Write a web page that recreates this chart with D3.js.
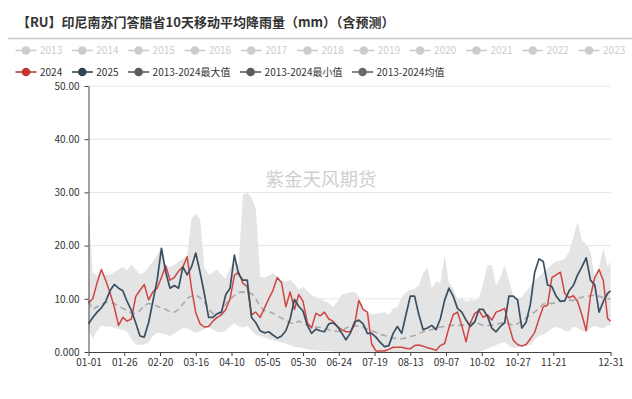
<!DOCTYPE html>
<html><head><meta charset="utf-8">
<script src="https://cdn.jsdelivr.net/npm/d3@7"></script>
<style>body{margin:0;background:#fff} svg{display:block}</style>
</head><body>
<svg id="c" width="632" height="399"></svg>
<script>
// ---------- data ----------
const titleText = "【RU】印尼南苏门答腊省10天移动平均降雨量（mm）（含预测）";
const watermarkText = "紫金天风期货";
const fadedLegend = ["2013","2014","2015","2016","2017","2018","2019","2020","2021","2022","2023"];
const activeLegend = ["2024","2025","2013-2024最大值","2013-2024最小值","2013-2024均值"];
const yTickValues = [0,10,20,30,40,50];
const yTickLabels = ["0.000","10.00","20.00","30.00","40.00","50.00"];
const xTickLabels = ["01-01","01-26","02-20","03-16","04-10","05-05","05-30","06-24","07-19","08-13","09-07","10-02","10-27","11-21","12-31"];

// day-of-year categories (MM-DD) and the sampled day indices the values belong to
const categories = d3.timeDays(new Date(2024,0,1), new Date(2025,0,1)).map(d3.timeFormat("%m-%d"));
const sampleIdx = d3.range(0,366,3).concat([365]);

const series2024 = [
9.2,10,13,15.5,13.5,11.2,8.5,5,6.5,5.8,
6.2,10.4,11.6,12.7,9.8,11.3,12,14,16.2,13.5,
14,15.2,16,17.9,12,7.4,5.3,4.7,4.8,5.8,
6.5,7,8,10,14.4,15,12.9,12.3,7,7.5,
6.5,8.2,10,11.6,14,13,8.5,11.3,8,10.8,
9.5,5.5,4.5,7.3,6.8,7.5,6.2,5.8,4.8,4.2,
3.8,3.8,5,9.7,8,7.5,1.5,0.2,0.2,0.2,
0.5,0.9,0.9,0.9,0.7,0.6,1.2,1.3,1.1,0.8,
0.6,0.3,1.2,1.6,4.5,7,7.5,5,1.9,5.5,
7.2,7.8,6.5,7,6,7.5,7.8,8.2,5,2.2,
1.4,1.1,1.4,2.5,3.7,6.2,8.5,8.8,14,14.5,
15,11,10.2,10.6,9.5,7,4,10.5,14,15.5,
13.4,6.3,5.8];
const series2025 = [
5.3,6.5,7.5,8.3,9.5,11.5,12.7,12,11.5,9.5,
7.8,5.5,3,2.8,5.5,9.5,13.5,19.5,15,12,
12.5,12,16,14.5,16,18.6,15,11,6.5,6.5,
7.2,7.5,10.8,12,18.2,14.6,13.5,13.5,6.5,5.5,
4,3.6,3.8,3.2,2.6,3,4,6.2,9.9,8.6,
7.7,5,3.5,4.3,4,3.8,5.3,5.5,4.8,3.6,
2.3,3.5,5.6,6,5.3,3.5,3.5,2.8,1.8,1,
1.2,3.5,4.8,3.5,7,10.5,10.5,7,4.2,4.5,
5,4.2,6.2,9.7,12,10.5,8.2,7.5,6,4.8,
5.6,8,8,6.7,4.5,3.8,4.8,5.5,10.5,10.5,
9.8,4.5,5.6,9,15,17.5,17,12.6,12.3,10.5,
9.5,9.6,11.5,12.5,14.5,16,17.7,13.5,12.6,7.5,
9.5,11,11.5];
const seriesMean = [
9.5,8,8.5,9,9.3,9.4,9.1,8.6,8.2,7.8,
7.3,7.2,7.8,8.8,9.1,9,8.6,8.3,8,7.6,
7.5,8,9,10.1,10.5,10.7,10.2,9.4,8.2,7.2,
7.2,7.6,9,10,10.6,11.2,11.3,11.2,11,10,
8.5,7.8,7.6,7.3,6.8,6.4,5.9,5.5,5.3,5.8,
5.4,5,4.8,4.7,4.6,4.4,4.2,4,3.9,3.8,
4.5,4.8,4.9,4.9,4.7,4.3,4,3.7,3.3,3.1,
2.8,2.6,2.5,2.5,2.6,2.9,3.1,3.5,3.8,4,
4.2,4.5,4.7,4.8,5,5,5,5,5.2,5.4,
5.6,5.3,5,5,5,5.2,5.4,5.6,5.3,5,
5.3,5.8,6.4,7,7.5,8.2,9,9.2,9.1,9.3,
9.6,9.7,9.7,9.7,10,10.3,10.4,10.6,10.7,10.5,
10.2,10,10];
const seriesMax = [
26.5,15,14.4,15.5,14.5,14.5,15,15.5,16,15.3,
16.5,15.5,14.6,15,16,17,18.3,19.8,16.2,16,
16.4,17,17.5,18.2,25,26,25,16,14.5,15,
15.5,14.5,13.8,16,16.8,16.5,29.5,30,29,27,
14.2,14,14.4,14.8,14.2,13.5,13.2,13.6,12.8,11.8,
12.2,11.5,10.7,10.3,10,9.6,9.2,8.5,9.5,10.8,
11,11.3,11.3,10.5,8.2,7.6,7,7.2,7.3,7.5,
7,8.2,8.5,10.3,11.3,11.6,11.9,12.5,14.8,16,
12,13.2,13,18.2,13,12,9.8,10.2,9.5,9.8,
9.7,10,13,16.3,16.3,12.6,14,16.3,13.5,10.5,
10,10.4,11.3,12.5,13.5,14.2,15,15.6,16.5,17,
17.2,17.5,18.8,21.5,24.5,21,20.3,19,14,16,
19.5,16,17];
const seriesMin = [
4,2.5,4,5,4.8,4.8,4.5,4.3,4.2,3.8,
2.5,1.4,1.3,1.4,1.8,3,3.6,3.5,3.3,3,
3.5,4,4.5,4.4,4,3.6,3.8,4.3,4.7,4.2,
3.8,3.7,4,4.8,5.4,4.8,4.6,5,4,3.2,
3,2.8,2.4,2.2,2,1.8,1.6,1.3,1,0.9,
0.7,0.5,0.4,0.3,0.3,0.2,0.2,0.1,0,0,
0,0,0,0,0,0,0,0,0,0,
0,0,0,0,0,0,0,0,0,0,
0,0,0,0,0,0,0,0,0,0,
0,0,0.3,0.6,1,1.3,1.6,1.9,1.2,0.7,
0.8,1.2,1.3,1.3,2.3,3,3.3,3.8,4.4,4.7,
4.5,4,3.8,4.8,4.5,4,3.8,4.5,5,4.6,
4.4,5,5];

// ---------- layout ----------
const svg = d3.select("#c");
const FONT = "'Noto Sans CJK SC','Noto Sans',sans-serif";
const plotLeft = 88.5, plotRight = 610.5, plotTop = 86, plotBottom = 352;

const x = d3.scalePoint().domain(categories).range([plotLeft, plotRight]);
const y = d3.scaleLinear().domain([0, 50]).range([plotBottom, plotTop]);

const pts = arr => sampleIdx.map((ci, i) => ({c: categories[ci], v: arr[i]}));

// title
svg.append("text").attr("x", 17).attr("y", 27)
  .attr("font-family", FONT).attr("font-size", 13).attr("font-weight", 700)
  .attr("fill", "#333").text(titleText);
svg.append("line").attr("x1", 8).attr("x2", 632).attr("y1", 38.5).attr("y2", 38.5)
  .attr("stroke", "#c8c8c8").attr("stroke-width", 1.5);

// legend
const legendColors = ["#c23531", "#2f4554", "#5b5b5b", "#5b5b5b", "#6a6a6a"];
function legendRow(items, yy, colorFn, textColor) {
  let xx = 15.5;
  items.forEach((name, i) => {
    const g = svg.append("g");
    const col = colorFn(i);
    g.append("line").attr("x1", xx).attr("x2", xx + 21).attr("y1", yy).attr("y2", yy)
      .attr("stroke", col).attr("stroke-width", 1.6);
    g.append("circle").attr("cx", xx + 10.5).attr("cy", yy).attr("r", 4.3).attr("fill", col);
    const t = g.append("text").attr("x", xx + 24.5).attr("y", yy + 3.6)
      .attr("font-family", FONT).attr("font-size", 10).attr("fill", textColor).text(name);
    xx += 24.5 + t.node().getComputedTextLength() + 9.6;
  });
}
legendRow(fadedLegend, 50.5, () => "#cccccc", "#cccccc");
legendRow(activeLegend, 72, i => legendColors[i], "#333");

// grid
svg.append("g").selectAll("line").data(yTickValues.filter(v => v > 0)).join("line")
  .attr("x1", plotLeft).attr("x2", plotRight).attr("y1", d => y(d)).attr("y2", d => y(d))
  .attr("stroke", "#e6e6e6").attr("stroke-width", 1);

// watermark
svg.append("text").attr("x", 321).attr("y", 186).attr("text-anchor", "middle")
  .attr("font-family", FONT).attr("font-size", 18.5).attr("fill", "#cfcfcf").text(watermarkText);

// band
const plot = svg.append("g");
const bandData = sampleIdx.map((ci, i) => ({c: categories[ci], lo: seriesMin[i], hi: seriesMax[i]}));
plot.append("path").datum(bandData)
  .attr("d", d3.area().x(d => x(d.c)).y0(d => y(d.lo)).y1(d => y(d.hi)))
  .attr("fill", "#e4e4e4");

const line = d3.line().x(d => x(d.c)).y(d => y(d.v));
plot.append("path").datum(pts(seriesMean)).attr("d", line)
  .attr("fill", "none").attr("stroke", "#aaaaaa").attr("stroke-width", 1.6)
  .attr("stroke-dasharray", "6,4");
plot.append("path").datum(pts(series2024)).attr("d", line)
  .attr("fill", "none").attr("stroke", "#d04444").attr("stroke-width", 1.5)
  .attr("stroke-linejoin", "round");
plot.append("path").datum(pts(series2025)).attr("d", line)
  .attr("fill", "none").attr("stroke", "#3a5061").attr("stroke-width", 1.7)
  .attr("stroke-linejoin", "round");

// axes
const yAxis = svg.append("g").attr("transform", `translate(${plotLeft},0)`)
  .call(d3.axisLeft(y).tickValues(yTickValues).tickFormat((d, i) => yTickLabels[i]).tickSize(4).tickSizeOuter(0));
const xAxis = svg.append("g").attr("transform", `translate(0,${plotBottom})`)
  .call(d3.axisBottom(x).tickValues(xTickLabels).tickSize(4).tickSizeOuter(0).tickPadding(3));
[yAxis, xAxis].forEach(a => {
  a.selectAll("path,line").attr("stroke", "#444");
  a.selectAll("text").attr("font-family", FONT).attr("font-size", 10).attr("fill", "#333");
});
yAxis.selectAll("text").attr("dx", "-2");
</script>
</body></html>
